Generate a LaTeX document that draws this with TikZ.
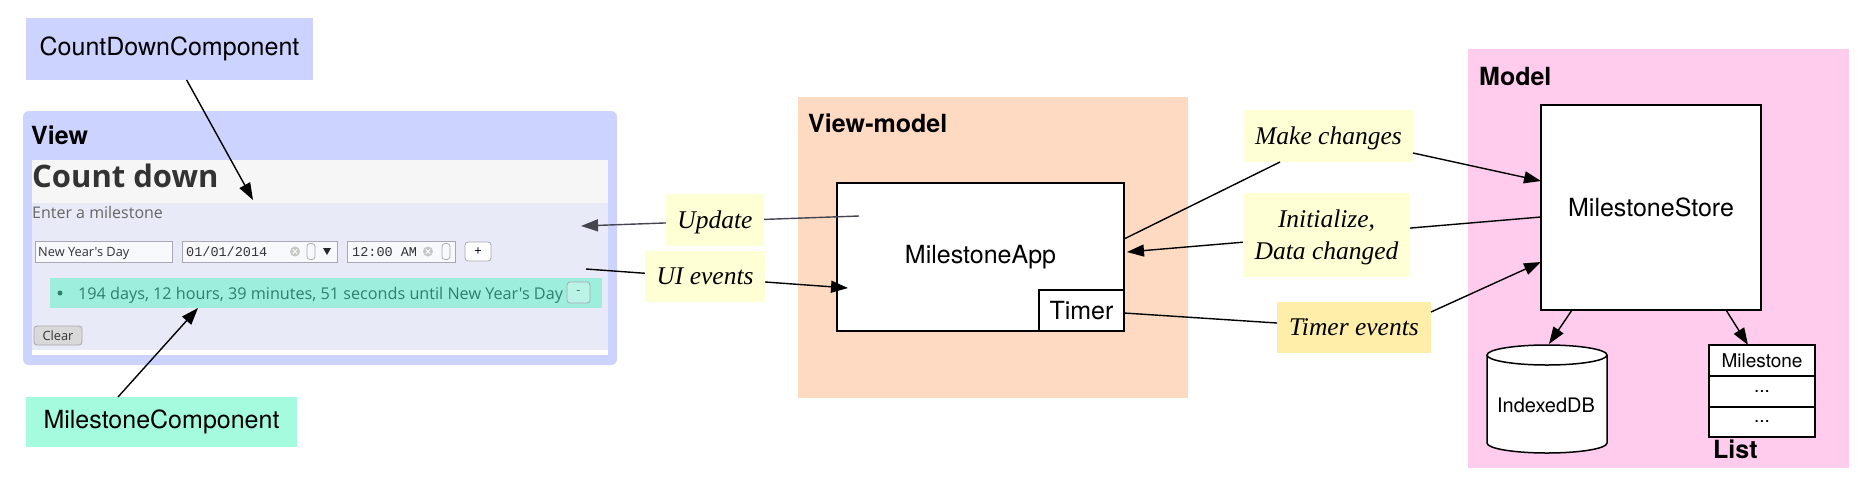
\documentclass[tikz,border=0pt]{standalone}
\usepackage{fontspec}
\setmainfont{TeX Gyre Heros}
\newfontfamily\timesf{Liberation Serif}
\newfontfamily\opensans{Open Sans}
\newfontfamily\monof{Liberation Mono}
\usetikzlibrary{arrows.meta}
\definecolor{viewblue}{HTML}{CCD3FF}
\definecolor{bandgray}{HTML}{F6F6F6}
\definecolor{lav}{HTML}{E8EAF8}
\definecolor{greenbar}{HTML}{9EEEDD}
\definecolor{tealtext}{HTML}{2F7F6B}
\definecolor{mint}{HTML}{A5FBDD}
\definecolor{peach}{HTML}{FFDAC3}
\definecolor{pinkm}{HTML}{FFCCEE}
\definecolor{noteyellow}{HTML}{FFFFD5}
\definecolor{timeryellow}{HTML}{FFEDAA}
\definecolor{uigray}{HTML}{A8A8B0}
\definecolor{tipgray}{HTML}{45454F}
\tikzset{
  rect/.style={inner sep=0pt, outer sep=0pt, anchor=center},
  compbox/.style={rect, font=\fontsize{25}{30}\selectfont},
  panelttl/.style={inner sep=0pt, anchor=base west, font=\bfseries\fontsize{25}{30}\selectfont},
  note/.style={rect, fill=noteyellow, align=center, text depth=0pt, font=\timesf\itshape\fontsize{25.5}{32}\selectfont},
  umlbox/.style={rect, draw=black, line width=1.5pt, fill=white, font=\fontsize{25}{30}\selectfont},
  ln/.style={line width=1.4pt},
  arr/.style={line width=1.4pt, -{Triangle[length=17pt,width=12pt]}},
  uibox/.style={rect, draw=uigray, line width=0.8pt, fill=white},
  uibtn/.style={rect, draw=uigray, line width=0.8pt, rounded corners=3pt, fill=white!90!lav},
  uitxt/.style={inner sep=0pt, anchor=base west, font=\opensans\fontsize{12.8}{15}\selectfont, text=black!80},
  uimono/.style={inner sep=0pt, anchor=base west, font=\monof\fontsize{13.5}{16}\selectfont, text=black!80},
  clricon/.style={circle, fill=black!22, inner sep=0pt, minimum size=10pt, path picture={\draw[white, line width=1pt] ([xshift=-2.2pt,yshift=-2.2pt]path picture bounding box.center) -- ([xshift=2.2pt,yshift=2.2pt]path picture bounding box.center) ([xshift=-2.2pt,yshift=2.2pt]path picture bounding box.center) -- ([xshift=2.2pt,yshift=-2.2pt]path picture bounding box.center);}},
}
\begin{document}
\begin{tikzpicture}[x=1pt,y=-1pt]
\useasboundingbox (0,0) rectangle (1868,488);

% ---------------- View ----------------
\node[compbox, fill=viewblue, minimum width=287pt, minimum height=62pt] (cdc) at (169.5,49) {CountDownComponent};
\node[rect, fill=viewblue, rounded corners=6pt, minimum width=594pt, minimum height=254pt] (viewp) at (320,238) {};
\node[panelttl] (viewt) at (31,144) {View};
\node[rect, fill=white, minimum width=576pt, minimum height=195pt] (shot) at (320,257.5) {};
\node[rect, fill=bandgray, minimum width=576pt, minimum height=43pt] (band) at (320,181.5) {};
\node[rect, fill=lav, minimum width=576pt, minimum height=147pt] (lavp) at (320,276.5) {};
\node[inner sep=0pt, anchor=base west, font=\opensans\bfseries\fontsize{31}{36}\selectfont, text=black!80] (cdt) at (32,187) {Count down};
\node[inner sep=0pt, anchor=base west, font=\opensans\fontsize{16}{19}\selectfont, text=black!60] (enter) at (32,218) {Enter a milestone};

\node[uibox, fill=white!70!lav, minimum width=137pt, minimum height=21pt] (in1) at (103.5,251.5) {};
\node[uitxt] (in1t) at (38,256) {New Year's Day};
\node[uibox, fill=white!70!lav, minimum width=155pt, minimum height=21pt] (in2) at (259.5,251.5) {};
\node[uimono] (in2t) at (186,256.5) {01/01/2014};
\node[clricon] (clr2) at (295,251.5) {};
\node[rect, draw=uigray, line width=0.7pt, rounded corners=3pt, minimum width=8pt, minimum height=16pt] (sp2) at (311,251.5) {};
\fill[black!85] (323,248) -- (331,248) -- (327,255) -- cycle;
\node[uibox, fill=white!70!lav, minimum width=108pt, minimum height=21pt] (in3) at (401,251.5) {};
\node[uimono] (in3t) at (352,256.5) {12:00 AM};
\node[clricon] (clr3) at (428,251.5) {};
\node[rect, draw=uigray, line width=0.7pt, rounded corners=3pt, minimum width=8pt, minimum height=16pt] (sp3) at (446,251.5) {};
\node[uibtn, minimum width=26pt, minimum height=19pt, font=\opensans\fontsize{13}{15}\selectfont] (plus) at (478,251.5) {+};

\node[rect, fill=greenbar, minimum width=552pt, minimum height=30pt] (gbar) at (326,293) {};
\node[circle, fill=tealtext, inner sep=0pt, minimum size=5pt] (bul) at (60,293) {};
\node[inner sep=0pt, anchor=base west, font=\opensans\fontsize{16.2}{19}\selectfont, text=tealtext] (gtxt) at (78,299) {194 days, 12 hours, 39 minutes, 51 seconds until New Year's Day};
\node[rect, draw=uigray, line width=0.8pt, rounded corners=3pt, fill=greenbar!70!white, minimum width=23pt, minimum height=21pt, font=\opensans\fontsize{13}{15}\selectfont, text=black!60] (minus) at (578.5,292.5) {-};
\node[uibtn, fill=white!85!black, minimum width=48pt, minimum height=19pt, font=\opensans\fontsize{12.8}{15}\selectfont, text=black!80] (clearb) at (58,335.5) {Clear};

\node[compbox, fill=mint, minimum width=271pt, minimum height=50pt] (mc) at (161.5,422) {MilestoneComponent};

\coordinate (cdcTip) at (253,200);
\draw[arr] (cdc) -- (cdcTip);
\draw[arr] ([xshift=-43.5pt]mc.north) -- ([xshift=-128pt]gbar.south);

% ---------------- View-model ----------------
\node[rect, fill=peach, minimum width=390pt, minimum height=301pt] (vmp) at (993,247.5) {};
\node[panelttl] (vmt) at (808,132) {View-model};
\node[umlbox, minimum width=287pt, minimum height=148pt] (app) at (980.5,257) {MilestoneApp};
\node[umlbox, minimum width=85pt, minimum height=41pt] (timer) at (1081.5,310.5) {Timer};

\coordinate (updTip) at (581,226);
\coordinate (uiStart) at (586,269);
\draw[ln, -{Triangle[length=17pt,width=12pt]}, tipgray] ([xshift=-121.5pt,yshift=41pt]app.center) -- (updTip);
\draw[arr] (uiStart) -- ([xshift=-132.5pt,yshift=-31pt]app.center);
\node[note, minimum width=98pt, minimum height=52pt] (upd) at (715,220) {Update};
\node[note, minimum width=120pt, minimum height=51pt] (uie) at (705,276.5) {UI events};

% ---------------- Model ----------------
\node[rect, fill=pinkm, minimum width=381pt, minimum height=419pt] (modp) at (1658.5,258.5) {};
\node[panelttl] (modt) at (1479,85) {Model};
\node[umlbox, minimum width=220pt, minimum height=205pt] (store) at (1651,207.5) {MilestoneStore};

\draw[arr] ([yshift=-9.5pt]store.west) -- ([xshift=3pt,yshift=5pt]app.east);
\node[note, minimum width=169pt, minimum height=52pt] (mk) at (1328.5,136) {Make changes};
\node[note, minimum width=167pt, minimum height=84pt] (init) at (1326.5,235) {Initialize,\\Data changed};
\node[note, fill=timeryellow, minimum width=154pt, minimum height=51pt] (tev) at (1354,327.5) {Timer events};

\draw[ln] ([yshift=18pt]app.east) -- ([xshift=-48.5pt]mk.south);
\draw[arr] ([yshift=-17pt]mk.east) -- ([yshift=26.5pt]store.west);
\draw[ln] ([yshift=-2.5pt]timer.east) -- ([yshift=4.5pt]tev.west);
\draw[arr] ([yshift=15.5pt]tev.east) -- ([yshift=-54.5pt]store.west);

% IndexedDB cylinder
\draw[line width=1.5pt, fill=white] (1487,355) -- (1487,443) arc[start angle=180, end angle=0, x radius=60, y radius=10] -- (1607,355);
\draw[line width=1.5pt, fill=white] (1547,355) ellipse[x radius=60, y radius=10];
\node[inner sep=0pt, font=\fontsize{20}{24}\selectfont] (idb) at (1546,405) {IndexedDB};
\coordinate (idbTop) at (1549,344);

% List
\node[umlbox, minimum width=106pt, minimum height=31pt, font=\fontsize{19}{23}\selectfont] (l1) at (1762,360.5) {Milestone};
\node[umlbox, minimum width=106pt, minimum height=31pt, font=\fontsize{19}{23}\selectfont] (l2) at (1762,391.5) {...};
\node[umlbox, minimum width=106pt, minimum height=30pt, font=\fontsize{19}{23}\selectfont] (l3) at (1762,422) {...};
\node[panelttl] (listt) at (1713,458) {List};

\draw[arr] ([xshift=-79pt]store.south) -- (idbTop);
\draw[arr] ([xshift=75pt]store.south) -- ([xshift=-14pt]l1.north);
\end{tikzpicture}
\end{document}
